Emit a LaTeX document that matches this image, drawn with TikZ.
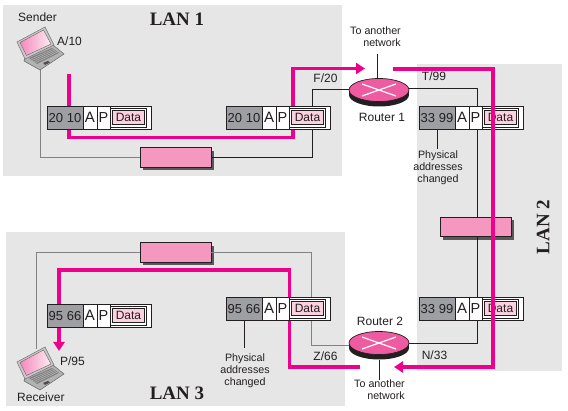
\documentclass[tikz,border=0pt]{standalone}
\usepackage{fontspec}
\setmainfont{Liberation Sans}
\newfontfamily\serifb{Liberation Serif}[BoldFont={Liberation Serif Bold}]
\usetikzlibrary{shapes.geometric,arrows.meta,calc}
\definecolor{lanbg}{HTML}{E6E6E6}
\definecolor{mag}{HTML}{EC008C}
\definecolor{hubpink}{HTML}{F598C0}
\definecolor{hubshadow}{HTML}{58595B}
\definecolor{addrgray}{HTML}{9D9FA2}
\definecolor{routerpink}{HTML}{EF5BA1}
\definecolor{datapink}{HTML}{FBD0DF}
\definecolor{ink}{HTML}{231F20}
\definecolor{wiregray}{HTML}{808285}
\tikzset{
  x=1pt,y=-1pt,
  lan/.style={fill=lanbg,draw=none},
  wire/.style={draw=ink,line width=0.8pt},
  graywire/.style={draw=wiregray,line width=0.8pt},
  route/.style={draw=mag,line width=3.6pt},
  routearrow/.style={route,-{Triangle[length=9pt,width=11pt]}},
  hubbox/.style={draw=ink,fill=hubpink,line width=0.9pt,minimum width=71pt,minimum height=19.5pt,inner sep=0pt},
  hubshade/.style={fill=hubshadow,draw=none,minimum width=71pt,minimum height=19.5pt,inner sep=0pt},
  lbl/.style={text=ink,font=\fontsize{12}{12}\selectfont,inner sep=0pt},
  note/.style={text=ink,font=\fontsize{10.7}{11.8}\selectfont,align=center,inner sep=0pt},
  lanname/.style={text=ink,font=\serifb\bfseries\fontsize{19}{20}\selectfont,inner sep=0pt},
  pktcell/.style={draw=ink,line width=0.9pt,inner sep=0pt},
  pkttxt/.style={text=ink,font=\fontsize{13}{13}\selectfont,inner sep=0pt},
}
\newcommand{\packet}[4]{% name, x, y, addresses
  \node[pktcell,fill=white,minimum width=104pt,minimum height=23.5pt] (#1) at (#2+52,#3+11.75) {};
  \node[pktcell,fill=addrgray,minimum width=36pt,minimum height=23.5pt] (#1addr) at (#2+18,#3+11.75) {};
  \node[pkttxt] at (#1addr) {#4};
  \node[pktcell,minimum width=14pt,minimum height=23.5pt] (#1a) at (#2+43,#3+11.75) {};
  \node[pkttxt,font=\fontsize{15}{15}\selectfont] at (#1a) {A};
  \node[pkttxt,font=\fontsize{14.5}{15}\selectfont] (#1p) at (#2+56.5,#3+11.75) {P};
  \node[pktcell,minimum width=36.5pt,minimum height=19pt,line width=0.7pt] (#1d) at (#2+81.5,#3+11.75) {};
  \node[pktcell,fill=datapink,minimum width=32.5pt,minimum height=14pt,line width=0.8pt,
        pkttxt,font=\fontsize{12}{12}\selectfont,draw=ink] (#1data) at (#2+81.5,#3+11.75) {Data};
  \draw[ink,line width=0.8pt] (#2+50,#3) -- (#2+50,#3+23.5) (#2+63,#3) -- (#2+63,#3+23.5);
}
\newcommand{\hub}[3]{% name, cx, cy
  \node[hubshade] at (#2+3,#3+3) {};
  \node[hubbox] (#1) at (#2,#3) {};
}
\newcommand{\router}[3]{% name, cx, cy
  \node[ellipse,fill=ink,draw=none,minimum width=60pt,minimum height=23pt,inner sep=0pt] at (#2,#3+5) {};
  \fill[ink] (#2-30,#3) rectangle (#2+30,#3+5);
  \node[ellipse,fill=routerpink,draw=ink,line width=0.7pt,minimum width=60pt,minimum height=23pt,inner sep=0pt] (#1) at (#2,#3) {};
  \draw[white,line width=1.2pt] (#2-17,#3-6) -- (#2+17,#3+6) (#2-17,#3+6) -- (#2+17,#3-6);
}
\newcommand{\laptop}[2]{% x, y offset: local origin is the sender's position
  \begin{scope}[shift={(#1,#2)}]
    \fill[black!30] (25,58) -- (53,45) -- (64,54) -- (40,70) -- (24,61) -- cycle;
    \draw[black!60,line width=0.5pt] (25,58) -- (53,45) -- (64,54) -- (40,70) -- (24,61) -- cycle;
    \fill[black!50] (29,58) -- (52,48) -- (59,53) -- (37,64) -- cycle;
    \foreach \t in {0.2,0.4,0.6,0.8}
      \draw[black!20,line width=0.3pt] ($(29,58)!\t!(37,64)$) -- ($(52,48)!\t!(59,53)$);
    \fill[black!70] (43,63) -- (48,61) -- (50,62.5) -- (45,65) -- cycle;
    \fill[black!22] (45,27) -- (17,42) -- (25,59) -- (54,45) -- cycle;
    \draw[black!55,line width=0.5pt] (45,27) -- (17,42) -- (25,59) -- (54,45) -- cycle;
    \shade[left color=hubpink!90!mag,right color=datapink!40] (43.5,30) -- (20,42.5) -- (26.5,55.5) -- (51,44) -- cycle;
    \draw[black!60,line width=0.4pt] (43.5,30) -- (20,42.5) -- (26.5,55.5) -- (51,44) -- cycle;
  \end{scope}
}
\begin{document}
\begin{tikzpicture}
\useasboundingbox (0,0) rectangle (568,411);
\fill[white] (0,0) rectangle (568,411);
% LANs
\path[lan] (3,5) rectangle (342,176);
\path[lan] (417,64) rectangle (562,371);
\path[lan] (6,232) rectangle (345,406);
% endpoints of the connectors
\coordinate (lapS) at (40,69);
\coordinate (lapR) at (36,349);
\coordinate (up1) at (377,54);
\coordinate (down2) at (379,380);
\coordinate (note1) at (437,149);
\coordinate (note2) at (244,348);
% routers and hubs
\router{r1}{379}{90}
\router{r2}{379}{343}
\hub{h1}{175.5}{157.5}
\hub{h2}{475.5}{227}
\hub{h3}{175.5}{252.5}
% wires
\coordinate (t1) at (312,89);
\coordinate (t2) at (477,88);
\coordinate (t3) at (477,343);
\coordinate (t4) at (311,345);
\draw[graywire] (lapS) |- (h1.west);
\draw[wire] (h1.east) -| (t1) -- (r1.west |- t1);
\draw[wire] (up1) -- (r1.north -| up1);
\draw[wire] (r1.east |- t2) -- (t2) -- (h2.north -| t2);
\draw[wire] (h2.south -| t3) -- (t3) -- (r2.east |- t3);
\draw[wire] (r2.south) ++(0,5) -- (down2);
\draw[graywire] (r2.west |- t4) -- (t4) |- (h3.east);
\draw[graywire] (h3.west) -| (lapR);
% routes under the packets
\coordinate (a0) at (69,74);
\coordinate (a1) at (69,137.5);
\coordinate (a2) at (293,137.5);
\coordinate (a3) at (293,68.5);
\coordinate (a4) at (365,68.5);
\draw[routearrow] (a0) -- (a1) -- (a2) -- (a3) -- (a4);
\coordinate (c0) at (360,367);
\coordinate (c1) at (289.5,367);
\coordinate (c2) at (289.5,270);
\coordinate (c3) at (59,270);
\coordinate (c4) at (59,351);
\draw[routearrow] (c0) -- (c1) -- (c2) -- (c3) -- (c4);
% packets
\packet{p1}{47}{106}{20 10}
\packet{p2}{226}{106}{20 10}
\packet{p3}{419}{106}{33 99}
\packet{p4}{419}{297}{33 99}
\packet{p5}{226}{297}{95 66}
\packet{p6}{47}{304}{95 66}
\draw[wire] (p3addr.south -| note1) -- (note1);
\draw[wire] (p5addr.south -| note2) -- (note2);
% route over the packets
\coordinate (b0) at (393,69);
\coordinate (b1) at (493,69);
\coordinate (b2) at (493,367);
\coordinate (b3) at (394,367);
\draw[routearrow] (b0) -- (b1) -- (b2) -- (b3);
% laptops
\laptop{0}{0}
\laptop{0}{320}
% labels
\node[lbl,anchor=west] (tS) at (18,17) {Sender};
\node[lbl,anchor=west] (tA) at (57,41) {A/10};
\node[lanname] (tL1) at (177,19) {LAN 1};
\node[note,anchor=east,align=right] (tO1) at (401,37) {To another\\network};
\node[lbl] (tR1) at (382,117) {Router 1};
\node[lbl] (tF) at (325.5,78) {F/20};
\node[lbl] (tT) at (434,76) {T/99};
\node[note] (tPh1) at (438,167.5) {Physical\\addresses\\changed};
\node[lanname,rotate=90] (tL2) at (543,227) {LAN 2};
\node[lbl] (tR2) at (380,321) {Router 2};
\node[lbl] (tN) at (434.5,355) {N/33};
\node[lbl] (tZ) at (325.5,356) {Z/66};
\node[note,anchor=east,align=right] (tO2) at (405,390) {To another\\network};
\node[note] (tPh2) at (245,371) {Physical\\addresses\\changed};
\node[lbl] (tP) at (72.5,361) {P/95};
\node[lbl,anchor=west] (tRc) at (17,397) {Receiver};
\node[lanname] (tL3) at (177,393) {LAN 3};
\end{tikzpicture}
\end{document}
